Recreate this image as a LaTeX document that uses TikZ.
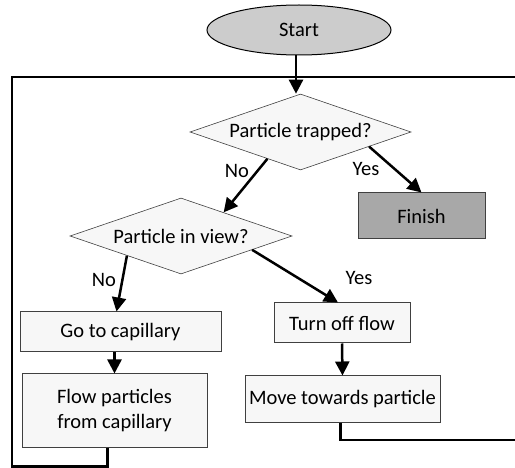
\documentclass[tikz,border=0pt]{standalone}
\usepackage{fontspec}
\setmainfont{Carlito}
\usetikzlibrary{shapes.geometric, arrows.meta, positioning, calc}
\definecolor{boxfill}{HTML}{F7F7F7}
\definecolor{boxline}{HTML}{404040}
\definecolor{startfill}{HTML}{CCCCCC}
\definecolor{finishfill}{HTML}{A8A8A8}

\begin{document}
\begin{tikzpicture}[x=1pt, y=-1pt, font=\fontsize{20.5}{25}\selectfont,
    flow/.style={line width=2.5pt, -{Triangle[width=14pt, length=14pt]}},
    loopline/.style={line width=2.5pt},
    decision/.style={diamond, draw=boxline, line width=0.6pt, fill=boxfill, inner sep=0pt, aspect=2.9, minimum width=221pt, minimum height=76pt},
    process/.style={rectangle, draw=boxline, line width=1pt, fill=boxfill, inner sep=0pt, align=center},
    answer/.style={inner sep=0pt}]

    \useasboundingbox (0, 0) rectangle (515, 468);

    \node[ellipse, draw, line width=1pt, fill=startfill, minimum width=184pt, minimum height=50pt] (start) at (299, 30) {Start};
    \node[decision] (trapped) at (300.5, 132) {Particle trapped?};
    \node[process, fill=finishfill, minimum width=127pt, minimum height=46pt] (finish) at (421.5, 216) {Finish};
    \node[decision, minimum width=222pt] (inview) at (181, 236) {Particle in view?};
    \node[process, minimum width=201pt, minimum height=40pt] (capillary) at (120.5, 332) {Go to capillary};
    \node[process, minimum width=185pt, minimum height=73pt] (flowparts) at (114.5, 410.5) {Flow particles\\from capillary};
    \node[process, minimum width=136pt, minimum height=40pt] (flowoff) at (342, 323) {Turn off flow};
    \node[process, minimum width=195pt, minimum height=46pt] (towards) at (342.5, 399) {Move towards particle};

    \coordinate (topleft) at (12, 77);
    \coordinate (topright) at (515, 77);
    \coordinate (botright) at (515, 440);

    % feedback loop
    \draw[loopline] ($(flowparts.south)+(-7,0)$) -- ++(0, 19) -| (topleft) -- (topright);
    \draw[loopline] ($(towards.south)+(-2,0)$) |- (botright);

    \draw[flow] ($(start.south)+(-3,0)$) -- ($(start.south |- trapped.north)+(-3,0)$);
    \draw[flow] (trapped.219) -- (inview.29);
    \draw[flow] (trapped.-12) -- (finish.north);
    \draw[flow] (inview.200) -- ($(capillary.north)+(-4,0)$);
    \draw[flow] (inview.-11) -- ($(flowoff.north)+(-4,0)$);
    \draw[flow] (capillary.south -| flowparts.north) -- (flowparts.north);
    \draw[flow] (flowoff.south) -- (towards.north);

    \node[answer] (no1) at (237, 171) {No};
    \node[answer] (yes1) at (366, 169) {Yes};
    \node[answer] (yes2) at (359, 278) {Yes};
    \node[answer] (no2) at (104, 280) {No};
\end{tikzpicture}
\end{document}
